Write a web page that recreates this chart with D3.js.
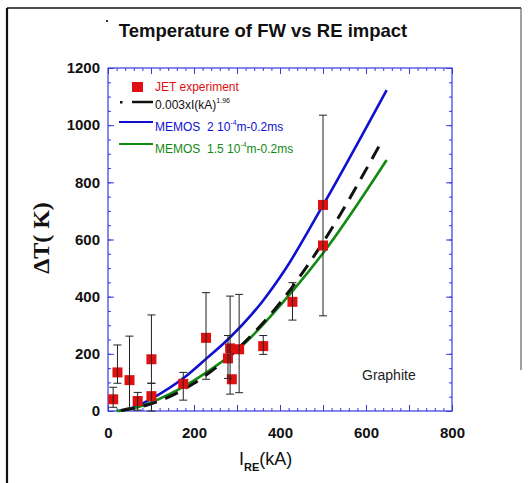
<!DOCTYPE html>
<html>
<head>
<meta charset="utf-8">
<script src="https://cdn.jsdelivr.net/npm/d3@7"></script>
<style>
  html, body { margin: 0; padding: 0; background: #fff; }
  svg { display: block; }
  text { font-family: Arial, "Liberation Sans", sans-serif; }
</style>
</head>
<body>
<svg id="chart" width="532" height="483"></svg>
<script>
// ---- Data ----
const jetX     = [12, 22, 50, 69, 101, 101, 175, 228, 279, 284, 288, 305, 361, 429, 500, 500];
const jetY     = [41, 135, 108, 35, 52, 181, 95, 256, 184, 219, 111, 216, 227, 382, 721, 579];
const errLow   = [13, 97, 10, 3, 0, 97, 38, 111, 114, 59, null, 64, 198, 318, 333, null];
const errHigh  = [83, 231, 262, 65, 97, 336, 135, 414, 264, 402, null, 408, 264, 449, 1035, null];

const fitX   = [30, 100, 200, 300, 400, 500, 636];
const fitY   = [2, 25, 97, 215, 378, 590, 942];

const memos2X = [25, 60, 100, 178, 230, 280, 360, 412, 500, 648];
const memos2Y = [0, 12, 42, 118, 185, 252, 385, 495, 720, 1123];

const memos15X = [20, 60, 100, 183, 214, 307, 431, 500, 648];
const memos15Y = [0, 10, 30, 91, 120, 222, 423, 552, 878];

const xTickLabels = [0, 200, 400, 600, 800];
const yTickLabels = [0, 200, 400, 600, 800, 1000, 1200];

// ---- Layout ----
const svg = d3.select("#chart");
const L = 108, R = 452, T = 68, B = 411;
const x = d3.scaleLinear().domain([0, 800]).range([L, R]);
const y = d3.scaleLinear().domain([0, 1200]).range([B, T]);
const frameColor = "#3a3ae0";

// outer page frame
svg.append("line").attr("x1", 7).attr("x2", 7).attr("y1", 8).attr("y2", 483)
  .attr("stroke", "#111").attr("stroke-width", 2.2);
svg.append("line").attr("x1", 7).attr("x2", 521).attr("y1", 8).attr("y2", 8)
  .attr("stroke", "#111").attr("stroke-width", 1.5);
svg.append("line").attr("x1", 521).attr("x2", 521).attr("y1", 8).attr("y2", 370)
  .attr("stroke", "#444").attr("stroke-width", 1);

// title
svg.append("text").attr("x", 263).attr("y", 37).attr("text-anchor", "middle")
  .attr("font-size", 18.5).attr("font-weight", "bold").attr("fill", "#111")
  .text("Temperature of FW vs RE impact");
svg.append("rect").attr("x", 106).attr("y", 20).attr("width", 2).attr("height", 2).attr("fill", "#333");

// ---- Axes ----
const minorX = d3.range(0, 801, 20);
const majorX = d3.range(0, 801, 100);
const minorY = d3.range(0, 1201, 50);
const majorY = d3.range(0, 1201, 200);

function styleAxis(g) {
  g.select(".domain").remove();
  g.selectAll(".tick line").attr("stroke", frameColor).attr("stroke-width", 1);
}

// minor ticks on all sides
svg.append("g").attr("transform", `translate(0,${B})`)
  .call(d3.axisBottom(x).tickValues(minorX).tickSize(-3).tickFormat(""))
  .call(styleAxis);
svg.append("g").attr("transform", `translate(0,${T})`)
  .call(d3.axisTop(x).tickValues(minorX).tickSize(-3).tickFormat(""))
  .call(styleAxis);
svg.append("g").attr("transform", `translate(${L},0)`)
  .call(d3.axisLeft(y).tickValues(minorY).tickSize(-3).tickFormat(""))
  .call(styleAxis);
svg.append("g").attr("transform", `translate(${R},0)`)
  .call(d3.axisRight(y).tickValues(minorY).tickSize(-3).tickFormat(""))
  .call(styleAxis);
// major ticks
svg.append("g").attr("transform", `translate(0,${B})`)
  .call(d3.axisBottom(x).tickValues(majorX).tickSize(-6).tickFormat(""))
  .call(styleAxis);
svg.append("g").attr("transform", `translate(0,${T})`)
  .call(d3.axisTop(x).tickValues(majorX).tickSize(-6).tickFormat(""))
  .call(styleAxis);
svg.append("g").attr("transform", `translate(${L},0)`)
  .call(d3.axisLeft(y).tickValues(majorY).tickSize(-6).tickFormat(""))
  .call(styleAxis);
svg.append("g").attr("transform", `translate(${R},0)`)
  .call(d3.axisRight(y).tickValues(majorY).tickSize(-6).tickFormat(""))
  .call(styleAxis);

// tick labels
const xAx = svg.append("g").attr("transform", `translate(0,${B})`)
  .call(d3.axisBottom(x).tickValues(xTickLabels).tickSize(0).tickPadding(16).tickFormat(d3.format("d")));
xAx.select(".domain").remove();
xAx.selectAll("text").attr("font-size", 15).attr("font-weight", "bold").attr("fill", "#111")
  .attr("font-family", "Arial, 'Liberation Sans', sans-serif");
const yAx = svg.append("g").attr("transform", `translate(${L},0)`)
  .call(d3.axisLeft(y).tickValues(yTickLabels).tickSize(0).tickPadding(8).tickFormat(d3.format("d")));
yAx.select(".domain").remove();
yAx.selectAll("text").attr("font-size", 15).attr("font-weight", "bold").attr("fill", "#111")
  .attr("font-family", "Arial, 'Liberation Sans', sans-serif");

// frame
svg.append("rect").attr("x", L).attr("y", T).attr("width", R - L).attr("height", B - T)
  .attr("fill", "none").attr("stroke", frameColor).attr("stroke-width", 1.2);

// axis titles
svg.append("text").attr("transform", `translate(49,238) rotate(-90)`)
  .attr("text-anchor", "middle").attr("font-size", 24).attr("font-weight", "bold")
  .style("font-family", "'Liberation Serif', 'DejaVu Serif', serif").attr("fill", "#111")
  .text("ΔT(\u00a0K)");
const xt = svg.append("text").attr("x", 239).attr("y", 465).attr("font-size", 18).attr("fill", "#111");
xt.append("tspan").text("I");
xt.append("tspan").attr("font-size", 11).attr("font-weight", "bold").attr("dy", 6).text("RE");
xt.append("tspan").attr("dy", -6).text("(kA)");

// ---- Curves ----
const line = d3.line().x(d => x(d[0])).y(d => y(d[1])).curve(d3.curveMonotoneX);
svg.append("path").datum(d3.zip(memos2X, memos2Y)).attr("d", line)
  .attr("fill", "none").attr("stroke", "#1010d0").attr("stroke-width", 2.6);
svg.append("path").datum(d3.zip(memos15X, memos15Y)).attr("d", line)
  .attr("fill", "none").attr("stroke", "#128a12").attr("stroke-width", 2.6);
svg.append("path").datum(d3.zip(fitX, fitY)).attr("d", line)
  .attr("fill", "none").attr("stroke", "#111").attr("stroke-width", 3)
  .attr("stroke-dasharray", "14,9");

// ---- JET points ----
const pts = jetX.map((v, i) => ({x: v, y: jetY[i], lo: errLow[i], hi: errHigh[i]}));
svg.append("g").selectAll("rect").data(pts).join("rect")
  .attr("x", d => x(d.x) - 5).attr("y", d => y(d.y) - 5)
  .attr("width", 10).attr("height", 10).attr("fill", "#e01010");
const eb = svg.append("g").attr("stroke", "#222").attr("stroke-width", 1);
pts.filter(d => d.lo !== null).forEach(d => {
  eb.append("line").attr("x1", x(d.x)).attr("x2", x(d.x)).attr("y1", y(d.lo)).attr("y2", y(d.hi));
  eb.append("line").attr("x1", x(d.x) - 4).attr("x2", x(d.x) + 4).attr("y1", y(d.lo)).attr("y2", y(d.lo));
  eb.append("line").attr("x1", x(d.x) - 4).attr("x2", x(d.x) + 4).attr("y1", y(d.hi)).attr("y2", y(d.hi));
});

// ---- Legend ----
const lg = svg.append("g").attr("font-size", 12);
lg.append("rect").attr("x", 132).attr("y", 82).attr("width", 11).attr("height", 10).attr("fill", "#e01010");
lg.append("text").attr("x", 155).attr("y", 91).attr("fill", "#e01010").text("JET experiment");

lg.append("rect").attr("x", 120).attr("y", 101).attr("width", 2.5).attr("height", 2.5).attr("fill", "#111");
lg.append("line").attr("x1", 132).attr("x2", 153).attr("y1", 102).attr("y2", 102)
  .attr("stroke", "#111").attr("stroke-width", 2.5);
const t2 = lg.append("text").attr("x", 155).attr("y", 109).attr("fill", "#111");
t2.append("tspan").text("0.003xI(kA)");
t2.append("tspan").attr("font-size", 7).attr("dy", -6).text("1.96");

lg.append("line").attr("x1", 119).attr("x2", 153).attr("y1", 122).attr("y2", 122)
  .attr("stroke", "#1010d0").attr("stroke-width", 2.2);
const t3 = lg.append("text").attr("x", 155).attr("y", 131).attr("fill", "#1010d0");
t3.append("tspan").text("MEMOS\u00a0\u00a02 10");
t3.append("tspan").attr("font-size", 7).attr("dy", -6).text("-4");
t3.append("tspan").attr("dy", 6).text("m-0.2ms");

lg.append("line").attr("x1", 119).attr("x2", 153).attr("y1", 144).attr("y2", 144)
  .attr("stroke", "#128a12").attr("stroke-width", 2.2);
const t4 = lg.append("text").attr("x", 155).attr("y", 153).attr("fill", "#128a12");
t4.append("tspan").text("MEMOS\u00a0\u00a01.5 10");
t4.append("tspan").attr("font-size", 7).attr("dy", -6).text("-4");
t4.append("tspan").attr("dy", 6).text("m-0.2ms");

// annotation
svg.append("text").attr("x", 362).attr("y", 380).attr("font-size", 14).attr("fill", "#222")
  .text("Graphite");
</script>
</body>
</html>
